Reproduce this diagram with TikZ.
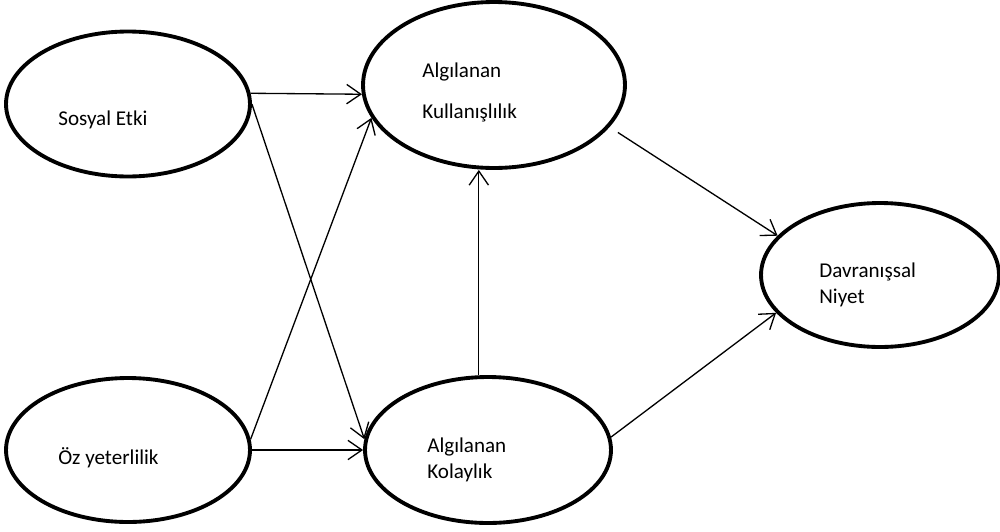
\documentclass[tikz,border=0pt]{standalone}
\usepackage{fontspec}
\setmainfont{Carlito}
\usepackage{tikz}
\usetikzlibrary{shapes.geometric}
\usetikzlibrary{arrows.meta}

\begin{document}
\begin{tikzpicture}[x=0.02cm,y=-0.02cm]
\tikzstyle{construct}=[ellipse,draw,line width=2.2pt,inner sep=0pt]
\tikzstyle{ctext}=[anchor=west,align=left,inner sep=0pt,font=\fontsize{12}{14.7}\selectfont]
\tikzstyle{path}=[->,line width=0.75pt,>={Straight Barb[length=8pt,width=11pt]}]

\useasboundingbox (0,0) rectangle (1000,531);

\node [construct, minimum width=4.88cm, minimum height=2.9cm] (sosyal) at (128,104) {};
\node [construct, minimum width=5.24cm, minimum height=3.32cm] (fayda) at (494,85) {};
\node [construct, minimum width=4.76cm, minimum height=2.88cm] (niyet) at (880,275) {};
\node [construct, minimum width=4.88cm, minimum height=2.88cm] (oz) at (128,450) {};
\node [construct, minimum width=4.92cm, minimum height=2.92cm] (kolay) at (488,450) {};

\node [ctext] (sosyaltxt) at (58,120) {Sosyal Etki};
\node [ctext] (faydatxt) at (422,92) {Algılanan\\[8.6pt]Kullanışlılık};
\node [ctext] (niyettxt) at (819,285) {Davranışsal\\Niyet};
\node [ctext] (oztxt) at (58,458) {Öz yeterlilik};
\node [ctext] (kolaytxt) at (427,460) {Algılanan\\Kolaylık};

\draw[path] (sosyal.5) -- (fayda.184);
\draw[path] (sosyal.east) -- (kolay.175);
\draw[path] (oz.5) -- (fayda.195);
\draw[path] (oz) -- (kolay);
\draw[path] (kolay.97) -- (kolay.97 |- fayda.south);
\draw[path,shorten <=0.2cm] (fayda.-20) -- (niyet.159);
\draw[path] (kolay.6) -- (niyet.200);

\end{tikzpicture}
\end{document}
